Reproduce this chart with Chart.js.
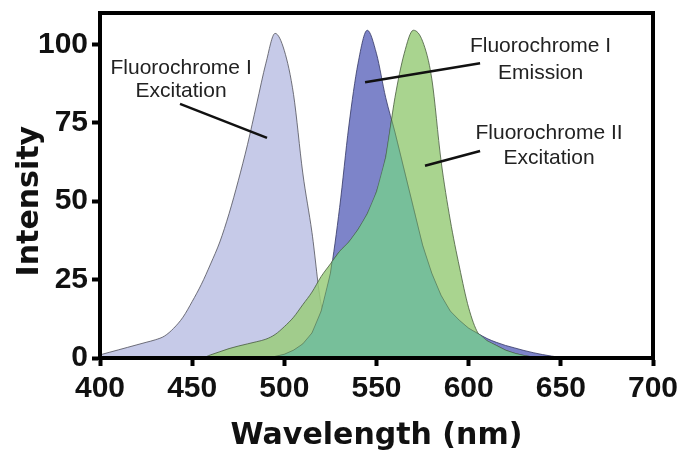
<!DOCTYPE html>
<html>
<head>
<meta charset="utf-8">
<script src="https://cdn.jsdelivr.net/npm/chart.js@4.4.1/dist/chart.umd.min.js"></script>
<style>
  body { margin: 0; background: #fff; }
</style>
</head>
<body>
<canvas id="grafico" width="680" height="452"></canvas>
<script>
// comprimentos de onda (nm)
var wavelengths = [400,405,410,415,420,425,430,435,440,445,450,455,460,465,470,475,480,485,490,495,
  500,505,510,515,520,525,530,535,540,545,550,555,560,565,570,575,580,585,590,595,
  600,605,610,615,620,625,630,635,640,645,650,655,660,665,670,675,680,685,690,695,700];

// Fluorochrome I - excitação (lilás)
var excitationI = [1,1.8,2.6,3.4,4.2,5,5.8,7,9.5,13,18,23.5,30,37,46,56.5,68,81,94,103.5,
  98,84,59,40,17,11,8,5.7,3.5,2,0.8,0.3,0,0,0,0,0,0,0,0,
  0,0,0,0,0,0,0,0,0,0,0,0,0,0,0,0,0,0,0,0,0];

// Fluorochrome I - emissão (azul)
var emissionI = [0,0,0,0,0,0,0,0,0,0,0,0,0,0,0,0,0,0,0,0.5,
  1.2,2.5,4.5,8,15,27,48,74,94,104.5,97,83,72,60,48,36,27,20,15,12,
  9.5,7.8,6.2,5,4,3.2,2.4,1.7,1.1,0.6,0.2,0,0,0,0,0,0,0,0,0,0];

// Fluorochrome II - excitação (verde)
var excitationII = [0,0,0,0,0,0,0,0,0,0,0,0,1,2,3,3.8,4.5,5.2,6,7.5,
  10,13,17,21,26,30,34,37,41,46,53,64,83,97,104.5,101,89,63,44,29,
  16,8,5.5,4,2.5,1.5,0.8,0.3,0,0,0,0,0,0,0,0,0,0,0,0,0];

// marcas dos eixos
var xTicks = [400,450,500,550,600,650,700];
var yTicks = [0,25,50,75,100];

// textos com linha de chamada (coordenadas em nm / intensidade)
var notes = [
  { lines: ['Fluorochrome I', 'Excitation'], x: 444, y: [92.4, 85.1], from: [443.4, 81], to: [490.6, 70.2] },
  { lines: ['Fluorochrome I', 'Emission'], x: 639, y: [99.4, 90.8], from: [606.2, 94], to: [543.8, 87.9] },
  { lines: ['Fluorochrome II', 'Excitation'], x: 643.6, y: [71.7, 63.8], from: [606.2, 66], to: [576.3, 61.3] }
];

function pontos(valores) {
  return wavelengths.map(function(w, i) { return { x: w, y: valores[i] }; });
}

// região comum entre duas curvas (mínimo, com os pontos de cruzamento)
function comum(a, b) {
  var pts = [];
  for (var i = 0; i < wavelengths.length; i++) {
    pts.push({ x: wavelengths[i], y: Math.min(a[i], b[i]) });
    if (i < wavelengths.length - 1) {
      var d0 = a[i] - b[i], d1 = a[i + 1] - b[i + 1];
      if (d0 * d1 < 0) {
        var t = d0 / (d0 - d1);
        pts.push({ x: wavelengths[i] + t * (wavelengths[i + 1] - wavelengths[i]), y: a[i] + t * (a[i + 1] - a[i]) });
      }
    }
  }
  return pts;
}

var anotacoes = {
  id: 'anotacoes',
  afterDatasetsDraw: function(chart) {
    var ctx = chart.ctx, sx = chart.scales.x, sy = chart.scales.y;
    ctx.save();
    ctx.font = '21px "Liberation Sans", Arial, sans-serif';
    ctx.fillStyle = '#222';
    ctx.textAlign = 'center';
    ctx.textBaseline = 'middle';
    notes.forEach(function(n) {
      n.lines.forEach(function(t, i) {
        ctx.fillText(t, sx.getPixelForValue(n.x), sy.getPixelForValue(n.y[i]));
      });
      ctx.beginPath();
      ctx.moveTo(sx.getPixelForValue(n.from[0]), sy.getPixelForValue(n.from[1]));
      ctx.lineTo(sx.getPixelForValue(n.to[0]), sy.getPixelForValue(n.to[1]));
      ctx.lineWidth = 2.5;
      ctx.strokeStyle = '#111';
      ctx.stroke();
    });
    ctx.restore();
  }
};

// moldura preta em volta da área do gráfico
var moldura = {
  id: 'moldura',
  afterDraw: function(chart) {
    var a = chart.chartArea, ctx = chart.ctx;
    ctx.save();
    ctx.lineWidth = 4;
    ctx.strokeStyle = '#000';
    ctx.strokeRect(a.left, a.top, a.right - a.left, a.bottom - a.top);
    ctx.restore();
  }
};

var tickFont = { family: '"Liberation Sans", Arial, sans-serif', size: 30, weight: 'bold' };
var titleFont = { family: '"DejaVu Sans", sans-serif', size: 30, weight: 'bold', lineHeight: 1 };

new Chart(document.getElementById('grafico'), {
  type: 'line',
  data: {
    datasets: [
      { data: comum(emissionI, excitationII), order: 0, fill: 'origin', backgroundColor: '#77bf9a',
        borderColor: 'rgba(60,80,60,0.45)', borderWidth: 1, cubicInterpolationMode: 'default', tension: 0 },
      { data: pontos(excitationII), order: 1, fill: 'origin', backgroundColor: 'rgba(154,204,123,0.85)',
        borderColor: 'rgba(70,90,60,0.8)', borderWidth: 1 },
      { data: pontos(emissionI), order: 2, fill: 'origin', backgroundColor: '#7d84c9',
        borderColor: 'rgba(50,54,100,0.8)', borderWidth: 1 },
      { data: pontos(excitationI), order: 3, fill: 'origin', backgroundColor: '#c6cae8',
        borderColor: 'rgba(80,80,90,0.8)', borderWidth: 1 }
    ]
  },
  options: {
    responsive: false,
    animation: false,
    cubicInterpolationMode: 'monotone',
    elements: { point: { radius: 0 } },
    layout: { padding: { top: 13, right: 27, left: 0, bottom: 0 } },
    plugins: { legend: { display: false }, tooltip: { enabled: false } },
    scales: {
      x: {
        type: 'linear', min: 400, max: 700, z: 1,
        afterBuildTicks: function(s) { s.ticks = xTicks.map(function(v) { return { value: v }; }); },
        afterFit: function(s) { s.height = 94; s.paddingLeft = 0; s.paddingRight = 0; },
        ticks: { color: '#111', font: tickFont, padding: 5, maxRotation: 0 },
        grid: { drawOnChartArea: false, tickLength: 8, tickWidth: 4, tickColor: '#000' },
        border: { color: '#000', width: 4 },
        title: { display: true, text: 'Wavelength (nm)', color: '#111', font: titleFont, padding: { top: 0, bottom: 1 } }
      },
      y: {
        min: 0, max: 110, z: 1,
        afterBuildTicks: function(s) { s.ticks = yTicks.map(function(v) { return { value: v }; }); },
        afterFit: function(s) { s.width = 100; s.paddingTop = 0; s.paddingBottom = 0; },
        ticks: { color: '#111', font: tickFont, padding: 4 },
        grid: { drawOnChartArea: false, tickLength: 8, tickWidth: 4, tickColor: '#000' },
        border: { color: '#000', width: 4 },
        title: { display: true, text: 'Intensity   ', color: '#111', font: titleFont, padding: { top: 15, bottom: 0 } }
      }
    }
  },
  plugins: [anotacoes, moldura]
});
</script>
</body>
</html>
